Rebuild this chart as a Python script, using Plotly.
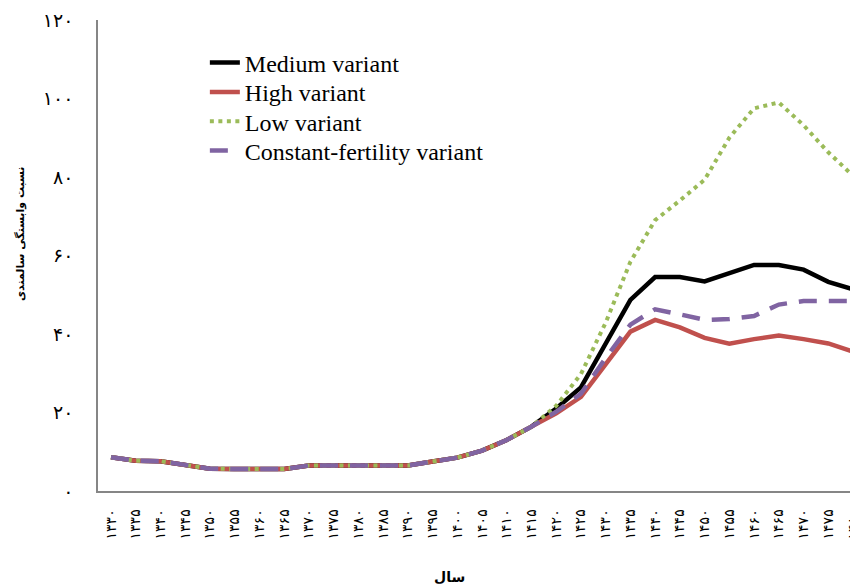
import plotly.graph_objects as go

years = list(range(1330, 1481, 5))

def fa(n):
    return str(n).translate(str.maketrans("0123456789", "۰۱۲۳۴۵۶۷۸۹"))

x_tick_labels = [fa(y) for y in years]
y_tick_values = [0, 20, 40, 60, 80, 100, 120]
y_tick_labels = [fa(v) for v in y_tick_values]

common = [8.6, 7.7, 7.6, 6.6, 5.7, 5.6, 5.6, 5.6, 6.5, 6.5, 6.5, 6.5, 6.5, 7.5, 8.5, 10.3, 13.0, 16.4]

medium = common + [21.0, 26.4, 37.5, 48.7, 54.5, 54.5, 53.4, 55.4, 57.6, 57.6, 56.4, 53.3, 51.4]
high = common + [19.8, 24.0, 32.5, 40.6, 43.6, 41.7, 39.0, 37.5, 38.7, 39.6, 38.7, 37.6, 35.5]
low = common + [21.7, 29.8, 42.9, 58.4, 69.0, 74.0, 79.3, 90.0, 97.5, 99.0, 93.2, 86.3, 80.3]
constant = common + [20.2, 24.8, 33.9, 42.4, 46.3, 45.0, 43.6, 43.8, 44.6, 47.5, 48.4, 48.4, 48.4]

series_names = ["Medium variant", "High variant", "Low variant", "Constant-fertility variant"]

fig = go.Figure()
fig.add_trace(go.Scatter(x=years, y=medium, name=series_names[0], mode="lines", legend="legend",
                         line=dict(color="#000000", width=4.5)))
fig.add_trace(go.Scatter(x=years, y=high, name=series_names[1], mode="lines", legend="legend2",
                         line=dict(color="#C0504D", width=4.5)))
fig.add_trace(go.Scatter(x=years, y=low, name=series_names[2], mode="lines", legend="legend3",
                         line=dict(color="#9BBB59", width=4, dash="4px,4.5px")))
fig.add_trace(go.Scatter(x=years, y=constant, name=series_names[3], mode="lines", legend="legend4",
                         line=dict(color="#8064A2", width=4.5, dash="18px,12px")))

# plot area in window: left 98, top 20, bottom 491 (page body adds 8px offset)
def leg(yc):
    return dict(x=0.1406, y=(491 - yc) / 471, xanchor="left", yanchor="middle",
                font=dict(family="Liberation Serif", size=24, color="#000000"),
                bgcolor="rgba(0,0,0,0)", borderwidth=0)

fig.update_layout(
    width=858, height=585,
    margin=dict(l=90, r=8, t=12, b=102),
    paper_bgcolor="white", plot_bgcolor="white",
    showlegend=True,
    legend=leg(63), legend2=leg(92.3), legend3=leg(121.6), legend4=leg(151),
    xaxis=dict(range=[1327.37, 1481.01], tickmode="array", tickvals=years, ticktext=x_tick_labels,
               tickangle=-90, showgrid=False, zeroline=False, showline=True, linecolor="#868686",
               linewidth=1.5, ticks="", ticklabelstandoff=11, automargin=False,
               tickfont=dict(family="DejaVu Sans", size=14, color="#000000")),
    yaxis=dict(range=[0, 120], tickmode="array", tickvals=y_tick_values, ticktext=y_tick_labels,
               showgrid=False, zeroline=False, showline=True, linecolor="#868686", linewidth=1.5,
               ticks="", ticklabelstandoff=19, automargin=False,
               tickfont=dict(family="DejaVu Sans", size=19, color="#000000")),
    annotations=[
        dict(text="<b>نسبت وابستگی سالمندی</b>", xref="paper", yref="paper", x=-0.1026, y=0.5456,
             xanchor="center", yanchor="middle", textangle=-90, showarrow=False,
             font=dict(family="DejaVu Sans", size=11, color="#000000")),
        dict(text="<b>سال</b>", xref="paper", yref="paper", x=0.463, y=-0.183,
             xanchor="center", yanchor="middle", showarrow=False,
             font=dict(family="DejaVu Sans", size=14, color="#000000")),
    ],
)

fig.write_html("out.html")
